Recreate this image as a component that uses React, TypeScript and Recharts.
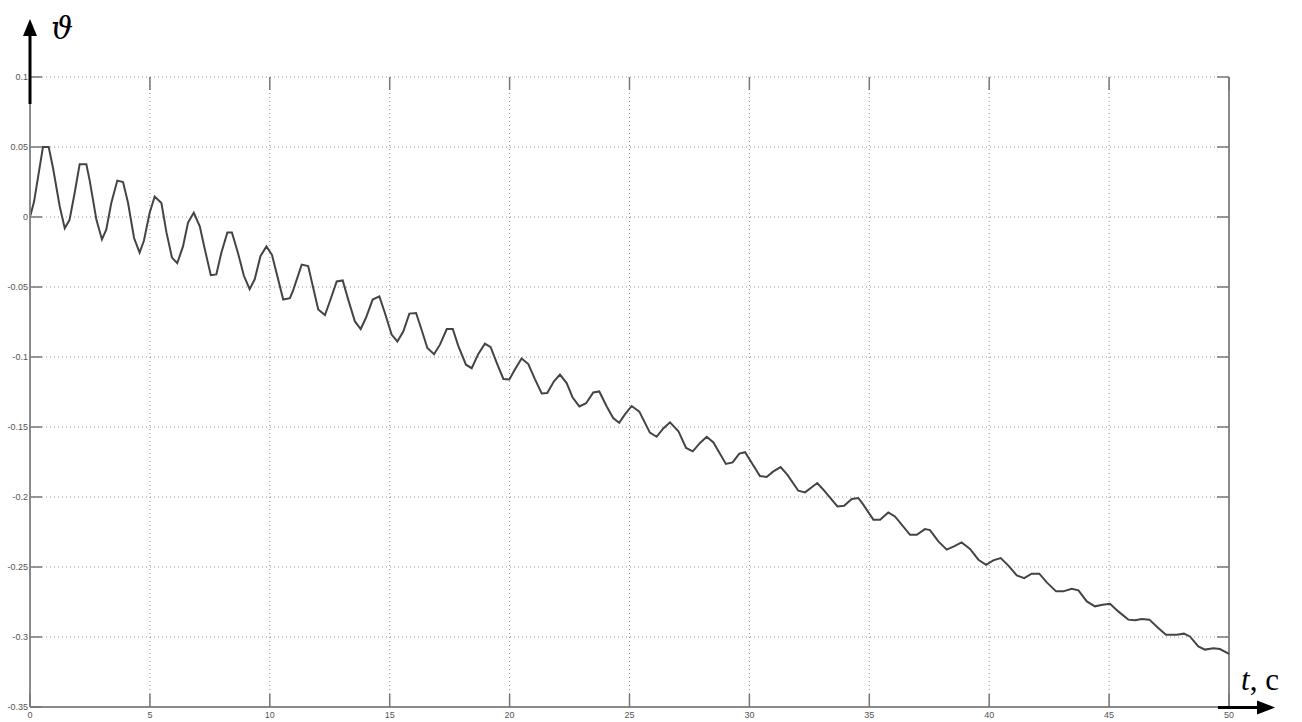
import React from "react";
import {
    LineChart,
    Line,
    XAxis,
    YAxis,
    CartesianGrid,
    ReferenceLine,
} from "recharts";

// time, s
const timeValues = [
    0, 0.17, 0.54, 0.78, 0.96, 1.24, 1.45, 1.65, 1.86, 2.07, 2.35, 2.49, 2.77, 3.0, 3.18,
    3.39, 3.64, 3.88, 4.09, 4.34, 4.57, 4.75, 4.99, 5.2, 5.48, 5.69, 5.92, 6.14, 6.38, 6.59,
    6.83, 7.08, 7.29, 7.54, 7.77, 7.98, 8.23, 8.42, 8.67, 8.92, 9.16, 9.37, 9.61, 9.86, 10.09,
    10.31, 10.56, 10.84, 10.98, 11.33, 11.6, 12.02, 12.3, 12.51, 12.79, 13.04, 13.27, 13.55,
    13.79, 14.01, 14.29, 14.57, 14.8, 15.08, 15.32, 15.57, 15.82, 16.1, 16.33, 16.57, 16.85,
    17.1, 17.38, 17.63, 17.86, 18.18, 18.42, 18.69, 18.97, 19.21, 19.46, 19.74, 19.99, 20.22,
    20.5, 20.78, 21.06, 21.34, 21.57, 21.85, 22.1, 22.38, 22.63, 22.91, 23.19, 23.49, 23.74,
    24.05, 24.32, 24.57, 24.81, 25.09, 25.41, 25.85, 26.13, 26.41, 26.69, 27.04, 27.36, 27.64,
    27.94, 28.22, 28.5, 29.02, 29.3, 29.58, 29.82, 30.1, 30.44, 30.72, 31.0, 31.3, 31.58,
    32.04, 32.32, 32.6, 32.83, 33.11, 33.67, 33.95, 34.27, 34.54, 34.75, 35.17, 35.45, 35.79,
    36.07, 36.7, 36.98, 37.32, 37.53, 37.88, 38.23, 38.53, 38.85, 39.2, 39.55, 39.87, 40.17,
    40.48, 40.8, 41.15, 41.46, 41.77, 42.09, 42.4, 42.79, 43.09, 43.44, 43.72, 44.07, 44.41,
    44.73, 45.04, 45.38, 45.8, 46.08, 46.36, 46.68, 47.05, 47.37, 47.82, 48.12, 48.37, 48.72,
    49.0, 49.35, 49.62, 50,
];

// pitch angle
const thetaValues = [
    0, 0.011, 0.05, 0.05, 0.035, 0.0075, -0.008, -0.002, 0.017, 0.0376, 0.0376, 0.026, -0.002,
    -0.016, -0.009, 0.01, 0.026, 0.025, 0.01, -0.015, -0.0255, -0.017, 0.003, 0.0146, 0.01,
    -0.011, -0.029, -0.033, -0.021, -0.004, 0.003, -0.0067, -0.023, -0.0416, -0.041, -0.0255,
    -0.011, -0.011, -0.0255, -0.042, -0.0516, -0.0445, -0.028, -0.021, -0.027, -0.042, -0.059,
    -0.058, -0.052, -0.034, -0.035, -0.066, -0.07, -0.06, -0.046, -0.0453, -0.059, -0.0746,
    -0.08, -0.072, -0.059, -0.0567, -0.0686, -0.084, -0.0889, -0.0817, -0.069, -0.0686,
    -0.0805, -0.0936, -0.098, -0.091, -0.08, -0.08, -0.092, -0.1055, -0.108, -0.098, -0.0905,
    -0.093, -0.104, -0.1157, -0.116, -0.109, -0.101, -0.105, -0.116, -0.126, -0.1257, -0.1174,
    -0.1126, -0.1186, -0.129, -0.1353, -0.133, -0.1253, -0.1246, -0.1353, -0.1436, -0.147,
    -0.141, -0.135, -0.139, -0.154, -0.157, -0.151, -0.1467, -0.153, -0.165, -0.1674, -0.1614,
    -0.157, -0.161, -0.1764, -0.1753, -0.169, -0.168, -0.1757, -0.185, -0.1857, -0.1817,
    -0.1786, -0.184, -0.1955, -0.1967, -0.193, -0.19, -0.1953, -0.2067, -0.2062, -0.2014,
    -0.2007, -0.2055, -0.2162, -0.2162, -0.211, -0.2139, -0.227, -0.227, -0.2229, -0.2236,
    -0.2317, -0.2376, -0.2353, -0.2324, -0.2371, -0.2448, -0.2484, -0.2453, -0.2436, -0.249,
    -0.256, -0.258, -0.2548, -0.2548, -0.261, -0.2674, -0.2674, -0.2655, -0.2667, -0.2746,
    -0.2781, -0.2769, -0.2762, -0.2817, -0.2876, -0.2881, -0.2871, -0.2876, -0.2936, -0.2984,
    -0.2984, -0.2976, -0.2996, -0.3067, -0.309, -0.3081, -0.3086, -0.312,
];

const xTicks = [0, 5, 10, 15, 20, 25, 30, 35, 40, 45, 50];
const xTickLabels = ["0", "5", "10", "15", "20", "25", "30", "35", "40", "45", "50"];
const yTicks = [0.1, 0.05, 0, -0.05, -0.1, -0.15, -0.2, -0.25, -0.3, -0.35];
const yTickLabels = ["0.1", "0.05", "0", "-0.05", "-0.1", "-0.15", "-0.2", "-0.25", "-0.3", "-0.35"];

const data = timeValues.map((t, i) => ({ t, v: thetaValues[i] }));

const W = 1302;
const H = 722;
const PLOT_LEFT = 30;
const PLOT_RIGHT = 1229;
const PLOT_TOP = 77;
const PLOT_BOTTOM = 707;
const AXIS_GRAY = "#8a8a8a";
const TICK_FONT = "'Liberation Sans Narrow', 'Liberation Sans', Arial, sans-serif";

const YTick = (props: any) => {
    const { x, y, payload } = props;
    const idx = yTicks.indexOf(payload.value);
    return (
        <g>
            <text
                x={x}
                y={y}
                dy={3}
                textAnchor="end"
                fontSize={9}
                fontFamily={TICK_FONT}
                fill="#555"
            >
                {idx >= 0 ? yTickLabels[idx] : payload.value}
            </text>
            <line x1={PLOT_LEFT} x2={PLOT_LEFT + 12} y1={y} y2={y} stroke="#777" strokeWidth={1.5} />
            <line x1={PLOT_RIGHT - 12} x2={PLOT_RIGHT} y1={y} y2={y} stroke="#777" strokeWidth={1.5} />
        </g>
    );
};

const XTick = (props: any) => {
    const { x, y, payload } = props;
    const idx = xTicks.indexOf(payload.value);
    return (
        <g>
            <text
                x={x}
                y={y}
                dy={9}
                textAnchor="middle"
                fontSize={9}
                fontFamily={TICK_FONT}
                fill="#555"
            >
                {idx >= 0 ? xTickLabels[idx] : payload.value}
            </text>
            <line x1={x} x2={x} y1={PLOT_BOTTOM} y2={PLOT_BOTTOM - 13} stroke="#777" strokeWidth={1.5} />
            <line x1={x} x2={x} y1={PLOT_TOP} y2={PLOT_TOP + 13} stroke="#777" strokeWidth={1.5} />
        </g>
    );
};

const App = () => {
    return (
        <div
            style={{
                position: "absolute",
                left: 0,
                top: 0,
                width: W,
                height: H,
                background: "#fff",
            }}
        >
            <LineChart
                width={W}
                height={H}
                data={data}
                margin={{ top: PLOT_TOP, right: W - PLOT_RIGHT, bottom: 0, left: 0 }}
            >
                <CartesianGrid stroke="#8f8f8f" strokeDasharray="1 3" />

                <XAxis
                    dataKey="t"
                    type="number"
                    domain={[0, 50]}
                    ticks={xTicks}
                    interval={0}
                    height={H - PLOT_BOTTOM}
                    tickSize={0}
                    tickMargin={2}
                    tickLine={false}
                    axisLine={{ stroke: AXIS_GRAY, strokeWidth: 2 }}
                    tick={<XTick />}
                />

                <YAxis
                    type="number"
                    domain={[-0.35, 0.1]}
                    ticks={yTicks}
                    interval={0}
                    width={PLOT_LEFT}
                    allowDataOverflow
                    tickSize={0}
                    tickMargin={2}
                    tickLine={false}
                    axisLine={{ stroke: AXIS_GRAY, strokeWidth: 2 }}
                    tick={<YTick />}
                />

                <ReferenceLine x={50} stroke={AXIS_GRAY} strokeWidth={2} />

                <Line
                    type="linear"
                    dataKey="v"
                    stroke="#444"
                    strokeWidth={2}
                    dot={false}
                    isAnimationActive={false}
                />
            </LineChart>

            <svg
                width={W}
                height={H}
                style={{ position: "absolute", left: 0, top: 0, pointerEvents: "none" }}
            >
                {/* vertical axis arrow */}
                <line x1={PLOT_LEFT} x2={PLOT_LEFT} y1={104} y2={34} stroke="#000" strokeWidth={3} />
                <polygon points="30,19 23,36 37,36" fill="#000" />
                <text
                    x={51}
                    y={39}
                    fontSize={31}
                    fontStyle="italic"
                    fontFamily="'DejaVu Serif', serif"
                >
                    ϑ
                </text>

                {/* time axis arrow */}
                <line x1={1218} x2={1260} y1={707.5} y2={707.5} stroke="#000" strokeWidth={3} />
                <polygon points="1275,707.5 1257,700.5 1257,714.5" fill="#000" />
                <text x={1241} y={690} fontSize={31} fontFamily="'Liberation Serif', serif">
                    <tspan fontStyle="italic">t</tspan>
                    <tspan>, c</tspan>
                </text>
            </svg>
        </div>
    );
};

export default App;
